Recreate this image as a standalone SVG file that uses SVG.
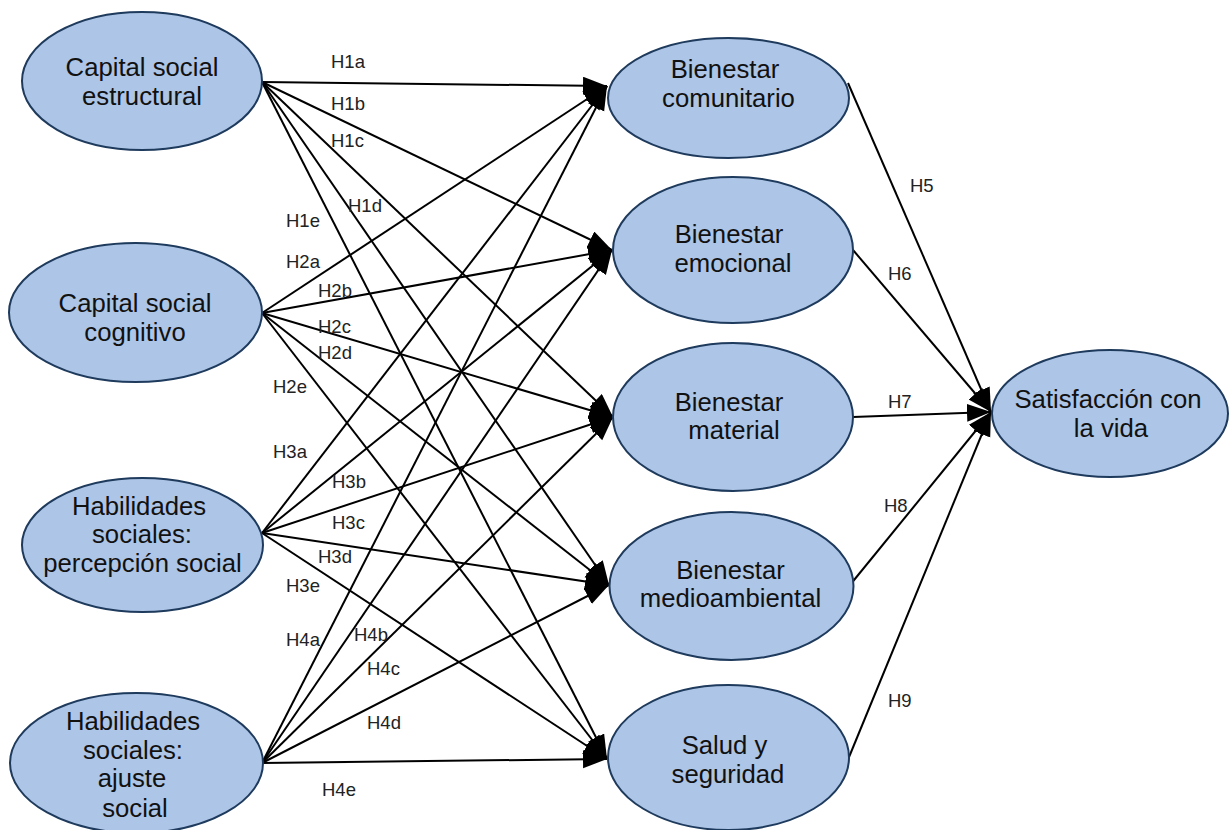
<svg xmlns="http://www.w3.org/2000/svg" width="1229" height="830" viewBox="0 0 1229 830">
<style>
.node{fill:#adc5e6;stroke:#1e3a5c;stroke-width:2}
.nt{font-family:"Liberation Sans",Arial,sans-serif;font-size:25.7px;fill:#111;text-anchor:middle}
.lbl{font-family:"Liberation Sans",Arial,sans-serif;font-size:18.5px;fill:#222}
.edge{stroke:#000;stroke-width:2;fill:none;marker-end:url(#arr)}
</style>
<defs>
<marker id="arr" markerUnits="userSpaceOnUse" markerWidth="26" markerHeight="20" refX="24" refY="9" orient="auto">
<path d="M0,0 L24,9 L0,18 z" fill="#000"/>
</marker>
</defs>
<rect width="1229" height="830" fill="#fff"/>
<g id="connectors">
<line class="edge" x1="262" y1="82" x2="607" y2="86"/>
<line class="edge" x1="262" y1="82" x2="612" y2="250"/>
<line class="edge" x1="262" y1="82" x2="613" y2="417"/>
<line class="edge" x1="262" y1="82" x2="609" y2="585"/>
<line class="edge" x1="262" y1="82" x2="607" y2="759"/>
<line class="edge" x1="262" y1="313" x2="607" y2="86"/>
<line class="edge" x1="262" y1="313" x2="612" y2="250"/>
<line class="edge" x1="262" y1="313" x2="613" y2="417"/>
<line class="edge" x1="262" y1="313" x2="609" y2="585"/>
<line class="edge" x1="262" y1="313" x2="607" y2="759"/>
<line class="edge" x1="262" y1="533" x2="607" y2="86"/>
<line class="edge" x1="262" y1="533" x2="612" y2="250"/>
<line class="edge" x1="262" y1="533" x2="613" y2="417"/>
<line class="edge" x1="262" y1="533" x2="609" y2="585"/>
<line class="edge" x1="262" y1="533" x2="607" y2="759"/>
<line class="edge" x1="262" y1="763" x2="607" y2="86"/>
<line class="edge" x1="262" y1="763" x2="612" y2="250"/>
<line class="edge" x1="262" y1="763" x2="613" y2="417"/>
<line class="edge" x1="262" y1="763" x2="609" y2="585"/>
<line class="edge" x1="262" y1="763" x2="607" y2="759"/>
<line class="edge" x1="848" y1="83" x2="991" y2="412"/>
<line class="edge" x1="853" y1="250" x2="991" y2="412"/>
<line class="edge" x1="853" y1="417" x2="991" y2="412"/>
<line class="edge" x1="850" y1="585" x2="991" y2="412"/>
<line class="edge" x1="847" y1="762" x2="991" y2="412"/>
</g>
<g id="labels">
<text class="lbl" x="331" y="68">H1a</text>
<text class="lbl" x="331" y="110">H1b</text>
<text class="lbl" x="331" y="147">H1c</text>
<text class="lbl" x="348" y="212">H1d</text>
<text class="lbl" x="286" y="227">H1e</text>
<text class="lbl" x="286" y="268">H2a</text>
<text class="lbl" x="318" y="297">H2b</text>
<text class="lbl" x="318" y="333">H2c</text>
<text class="lbl" x="318" y="359">H2d</text>
<text class="lbl" x="273" y="393">H2e</text>
<text class="lbl" x="273" y="458">H3a</text>
<text class="lbl" x="332" y="488">H3b</text>
<text class="lbl" x="332" y="529">H3c</text>
<text class="lbl" x="318" y="563">H3d</text>
<text class="lbl" x="286" y="592">H3e</text>
<text class="lbl" x="286" y="646">H4a</text>
<text class="lbl" x="354" y="641">H4b</text>
<text class="lbl" x="367" y="675">H4c</text>
<text class="lbl" x="367" y="729">H4d</text>
<text class="lbl" x="322" y="796">H4e</text>
<text class="lbl" x="910" y="192">H5</text>
<text class="lbl" x="888" y="280">H6</text>
<text class="lbl" x="888" y="408">H7</text>
<text class="lbl" x="884" y="512">H8</text>
<text class="lbl" x="888" y="707">H9</text>
</g>
<g id="n-csestructural">
<ellipse class="node" cx="142" cy="81" rx="120" ry="69"/>
<text class="nt" x="142" y="76">Capital social</text>
<text class="nt" x="142" y="105">estructural</text>
</g>
<g id="n-cscognitivo">
<ellipse class="node" cx="135.5" cy="312.5" rx="126.5" ry="69.5"/>
<text class="nt" x="135" y="312">Capital social</text>
<text class="nt" x="135" y="341">cognitivo</text>
</g>
<g id="n-hspercepcion">
<ellipse class="node" cx="142.5" cy="545" rx="120.5" ry="67"/>
<text class="nt" x="139" y="515">Habilidades</text>
<text class="nt" x="142" y="543">sociales:</text>
<text class="nt" x="142.5" y="572">percepción social</text>
</g>
<g id="n-hsajuste">
<ellipse class="node" cx="136.5" cy="763" rx="126.5" ry="70"/>
<text class="nt" x="133" y="730">Habilidades</text>
<text class="nt" x="133" y="759">sociales:</text>
<text class="nt" x="132" y="787">ajuste</text>
<text class="nt" x="135" y="817">social</text>
</g>
<g id="n-bcomunitario">
<ellipse class="node" cx="728.5" cy="98" rx="120.5" ry="60"/>
<text class="nt" x="725" y="78">Bienestar</text>
<text class="nt" x="728.5" y="107">comunitario</text>
</g>
<g id="n-bemocional">
<ellipse class="node" cx="733" cy="250" rx="120" ry="73"/>
<text class="nt" x="729" y="243">Bienestar</text>
<text class="nt" x="733" y="272">emocional</text>
</g>
<g id="n-bmaterial">
<ellipse class="node" cx="733" cy="417" rx="120" ry="74"/>
<text class="nt" x="729" y="411">Bienestar</text>
<text class="nt" x="734" y="439">material</text>
</g>
<g id="n-bmedioambiental">
<ellipse class="node" cx="731.5" cy="586" rx="122" ry="74"/>
<text class="nt" x="730.5" y="579">Bienestar</text>
<text class="nt" x="730.5" y="607">medioambiental</text>
</g>
<g id="n-salud">
<ellipse class="node" cx="728.5" cy="757.5" rx="120.5" ry="72.5"/>
<text class="nt" x="724.5" y="754">Salud y</text>
<text class="nt" x="728" y="783">seguridad</text>
</g>
<g id="n-satisfaccion">
<ellipse class="node" cx="1110" cy="413.5" rx="118" ry="63.5"/>
<text class="nt" x="1108" y="408">Satisfacción con</text>
<text class="nt" x="1111" y="437">la vida</text>
</g>
</svg>
